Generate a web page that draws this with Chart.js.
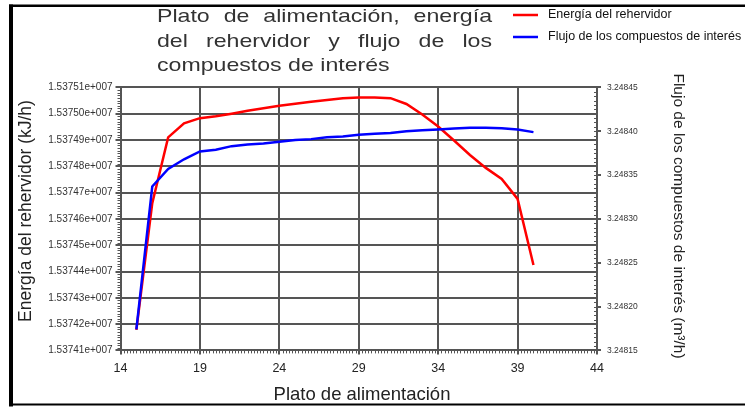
<!DOCTYPE html>
<html>
<head>
<meta charset="utf-8">
<script src="https://cdn.jsdelivr.net/npm/chart.js@4.4.1/dist/chart.umd.min.js"></script>
<style>
  html, body { margin: 0; padding: 0; background: #ffffff; }
  #wrap { position: relative; width: 745px; height: 407px; overflow: hidden; }
  canvas { display: block; }
</style>
</head>
<body>
<div id="wrap"><canvas id="chart" width="745" height="407"></canvas></div>
<script>
// Feed plate positions
const plates = [15, 16, 17, 18, 19, 20, 21, 22, 23, 24, 25, 26, 27, 28, 29, 30, 31, 32, 33, 34, 35, 36, 37, 38, 39, 40];

// Reboiler duty (kJ/h)
const energia = [15374178, 15374660, 15374910, 15374963, 15374983, 15374990, 15375000, 15375011,
                 15375021, 15375030, 15375038, 15375045, 15375052, 15375059, 15375062, 15375062,
                 15375059, 15375037, 15374997, 15374951, 15374898, 15374843, 15374794, 15374752,
                 15374676, 15374425];

// Flow of the components of interest (m3/h)
const flujo = [3.248174, 3.248337, 3.248357, 3.248368, 3.248377, 3.248379, 3.248383, 3.248385,
               3.248386, 3.248388, 3.248390, 3.248391, 3.248393, 3.248394, 3.248396, 3.248397,
               3.248398, 3.248400, 3.248401, 3.248402, 3.248403, 3.248404, 3.248404, 3.2484035,
               3.248402, 3.248399];

// Axis tick values
const xTicks = [14, 19, 24, 29, 34, 39, 44];
const energiaTicks = [15374100, 15374200, 15374300, 15374400, 15374500, 15374600,
                      15374700, 15374800, 15374900, 15375000, 15375100];
const flujoTicks = [3.24815, 3.24820, 3.24825, 3.24830, 3.24835, 3.24840, 3.24845];

const seriesNames = ['Energía del rehervidor', 'Flujo de los compuestos de interés'];
const titleLines = ['Plato de alimentación, energía', 'del rehervidor y flujo de los', 'compuestos de interés'];
const xTitle = 'Plato de alimentación';
const yLeftTitle = 'Energía del rehervidor (kJ/h)';
const yRightTitle = 'Flujo de los compuestos de interés (m³/h)';

const FONT = '"Liberation Sans", Arial, sans-serif';
const GRID = '#555555';

function fixedTicks(values) {
  return function (scale) { scale.ticks = values.map(v => ({ value: v })); };
}

// Page frame, title, legend, axis titles and minor tick marks
const decorations = {
  id: 'decorations',
  afterDraw(chart) {
    const ctx = chart.ctx;
    const { x, yL, yR } = chart.scales;
    const area = chart.chartArea;
    ctx.save();

    // frame
    ctx.fillStyle = '#000';
    ctx.fillRect(9, 4.5, 4, 402);
    ctx.fillRect(9, 4.5, 736, 2.5);
    ctx.fillRect(9, 403.5, 736, 2);

    // title: wide lettering, justified across its block
    ctx.fillStyle = '#333';
    ctx.font = '18.5px ' + FONT;
    ctx.textBaseline = 'alphabetic';
    ctx.textAlign = 'left';
    const sx = 1.25;
    const tx0 = 157, tx1 = 492;
    const baselines = [22, 47, 71];
    titleLines.forEach((line, i) => {
      const words = line.split(' ');
      const wid = w => ctx.measureText(w).width * sx;
      const put = (w, px) => {
        ctx.save();
        ctx.translate(px, baselines[i]);
        ctx.scale(sx, 1);
        ctx.fillText(w, 0, 0);
        ctx.restore();
      };
      if (i === titleLines.length - 1) {
        let cx = tx0;
        const space = wid(' ');
        words.forEach(w => { put(w, cx); cx += wid(w) + space; });
        return;
      }
      const wsum = words.reduce((s, w) => s + wid(w), 0);
      const gap = (tx1 - tx0 - wsum) / (words.length - 1);
      let cx = tx0;
      words.forEach(w => { put(w, cx); cx += wid(w) + gap; });
    });

    // legend
    ctx.font = '12.5px ' + FONT;
    ctx.textBaseline = 'middle';
    const legendY = [15, 37];
    chart.data.datasets.forEach((ds, i) => {
      ctx.strokeStyle = ds.borderColor;
      ctx.lineWidth = 2.5;
      ctx.beginPath();
      ctx.moveTo(513, legendY[i]);
      ctx.lineTo(538, legendY[i]);
      ctx.stroke();
      ctx.fillStyle = '#111';
      ctx.fillText(ds.label, 548, legendY[i]);
    });

    // axis titles
    ctx.fillStyle = '#222';
    ctx.textAlign = 'center';
    ctx.textBaseline = 'alphabetic';
    ctx.font = '18.5px ' + FONT;
    ctx.fillText(xTitle, 362, 400);

    ctx.font = '17.5px ' + FONT;
    ctx.save();
    ctx.translate(31, 211);
    ctx.rotate(-Math.PI / 2);
    ctx.fillText(yLeftTitle, 0, 0);
    ctx.restore();

    ctx.font = '15.5px ' + FONT;
    ctx.save();
    ctx.translate(674, 216);
    ctx.rotate(Math.PI / 2);
    ctx.fillText(yRightTitle, 0, 0);
    ctx.restore();

    // minor tick marks
    ctx.strokeStyle = GRID;
    ctx.lineWidth = 1;
    ctx.beginPath();
    for (let i = 0; i <= 100; i++) {
      const v = energiaTicks[0] + i * 10;
      const py = Math.round(yL.getPixelForValue(v)) + 0.5;
      ctx.moveTo(area.left - 3, py);
      ctx.lineTo(area.left + 1, py);
    }
    for (let i = 0; i <= 60; i++) {
      const v = flujoTicks[0] + i * 0.000005;
      const py = Math.round(yR.getPixelForValue(v)) + 0.5;
      ctx.moveTo(area.right - 3, py);
      ctx.lineTo(area.right + 1, py);
    }
    for (let i = 0; i <= 150; i++) {
      const v = xTicks[0] + i * 0.2;
      const px = Math.round(x.getPixelForValue(v)) + 0.5;
      ctx.moveTo(px, area.bottom - 1);
      ctx.lineTo(px, area.bottom + 3);
    }
    ctx.stroke();
    ctx.restore();
  }
};

const toPoints = vals => plates.map((p, i) => ({ x: p, y: vals[i] }));

new Chart(document.getElementById('chart'), {
  type: 'line',
  data: {
    datasets: [
      {
        label: seriesNames[0],
        data: toPoints(energia),
        yAxisID: 'yL',
        borderColor: '#ff0000',
        borderWidth: 2.5,
        pointRadius: 0,
        tension: 0,
        fill: false,
        order: 1
      },
      {
        label: seriesNames[1],
        data: toPoints(flujo),
        yAxisID: 'yR',
        borderColor: '#0000ff',
        borderWidth: 2.5,
        pointRadius: 0,
        tension: 0,
        fill: false,
        order: 0
      }
    ]
  },
  options: {
    responsive: false,
    devicePixelRatio: 1,
    animation: false,
    layout: { padding: { top: 87.4, left: 0, right: 0, bottom: 0 } },
    plugins: {
      legend: { display: false },
      title: { display: false },
      tooltip: { enabled: false }
    },
    scales: {
      x: {
        type: 'linear',
        min: 14,
        max: 44,
        afterBuildTicks: fixedTicks(xTicks),
        afterFit(scale) { scale.height = 56.6; },
        grid: { color: GRID, lineWidth: 2, tickLength: 4, drawTicks: true },
        border: { color: GRID, width: 2 },
        ticks: {
          color: '#222',
          padding: 7,
          maxRotation: 0,
          font: { family: FONT, size: 12.5 },
          callback: v => String(v)
        }
      },
      yL: {
        type: 'linear',
        position: 'left',
        min: energiaTicks[0],
        max: energiaTicks[energiaTicks.length - 1],
        afterBuildTicks: fixedTicks(energiaTicks),
        afterFit(scale) { scale.width = 120.5; },
        grid: { color: GRID, lineWidth: 2, tickLength: 5, drawTicks: true },
        border: { color: GRID, width: 2 },
        ticks: {
          color: '#333',
          padding: 3,
          font: { family: FONT, size: 10 },
          callback: v => (v / 1e7).toFixed(5) + 'e+007'
        }
      },
      yR: {
        type: 'linear',
        position: 'right',
        min: flujoTicks[0],
        max: flujoTicks[flujoTicks.length - 1],
        afterBuildTicks: fixedTicks(flujoTicks),
        afterFit(scale) { scale.width = 148; },
        grid: { drawOnChartArea: false, color: GRID, lineWidth: 2, tickLength: 4, drawTicks: true },
        border: { color: GRID, width: 2 },
        ticks: {
          color: '#333',
          padding: 6,
          font: { family: FONT, size: 8.5 },
          callback: v => v.toFixed(5)
        }
      }
    }
  },
  plugins: [decorations]
});
</script>
</body>
</html>
